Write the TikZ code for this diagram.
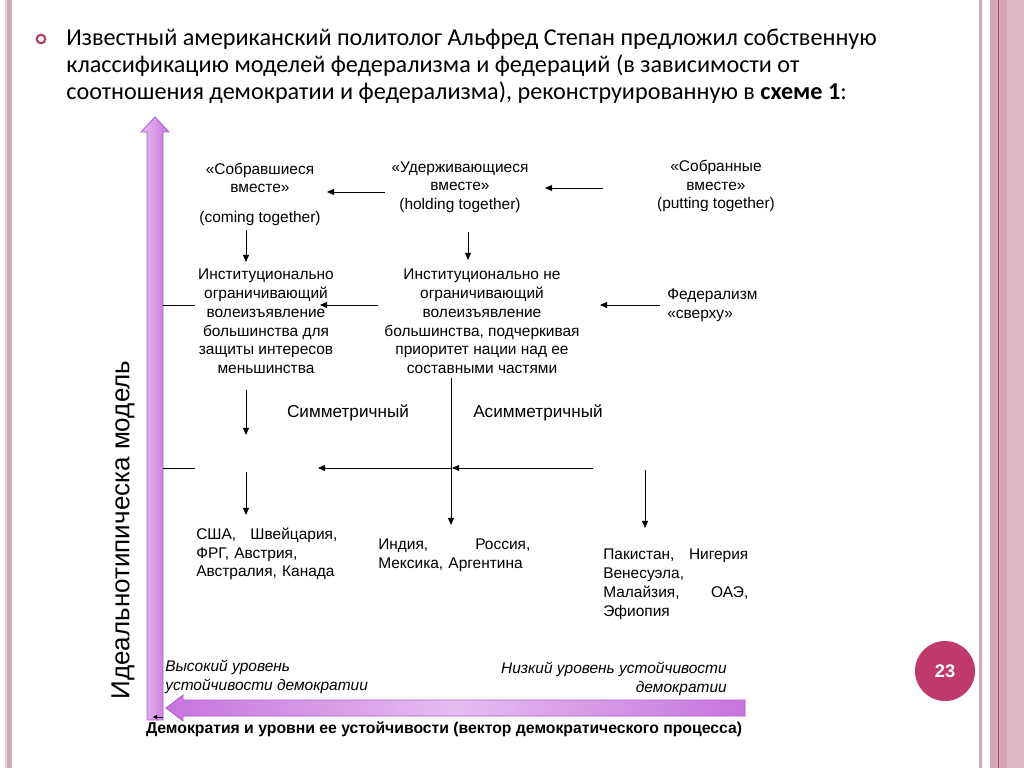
\documentclass[tikz,border=0pt]{standalone}
\usepackage{fontspec}
\setmainfont{Liberation Sans}
\newfontfamily\titlefont{Carlito}
\usetikzlibrary{arrows.meta,positioning}

\definecolor{stripepink}{HTML}{DDB7C2}
\definecolor{stripedark}{HTML}{D3A8B5}
\definecolor{stripeline}{HTML}{A84A6A}
\definecolor{bulletred}{HTML}{B23A66}
\definecolor{numred}{HTML}{BF396C}
\definecolor{axisfill}{HTML}{E6BDF0}
\definecolor{axisedge}{HTML}{C674DC}
\definecolor{axisline}{HTML}{B25ACA}

\tikzset{txt/.style = {inner sep=0pt,
                       align=center,
                       font=\fontsize{11}{13.3}\selectfont},
         marrow/.style = {-{Triangle[length=5pt,width=4.2pt]},
                          line width=0.6pt},
         mline/.style = {line width=0.6pt}}

\begin{document}
\begin{tikzpicture}[x=0.025cm,y=-0.025cm,
                    axis/.style = {draw=axisline,
                                   line width=0.6pt}]
		\useasboundingbox (0,0) rectangle (1024,768);
		\fill[white] (0,0) rectangle (1024,768);
		% borders
		\fill[stripepink!60!white] (5,0) rectangle (7,768);
		\fill[stripedark] (7,0) rectangle (12,768);
		\fill[stripedark] (979,0) rectangle (982,768);
		\fill[stripedark] (990,0) rectangle (1007,768);
		\fill[stripepink] (1007,0) rectangle (1024,768);
		\fill[stripeline] (997.5,0) rectangle (998.5,768);
		% title
		\draw[bulletred, line width=1.5pt] (41,39) circle (4.3);
		\node[inner sep=0pt, anchor=north west, align=left,
		      font=\titlefont\fontsize{17.2}{19.2}\selectfont] (title) at (66,29)
		     {Известный американский политолог Альфред Степан предложил собственную\\
		      классификацию моделей федерализма и федераций (в зависимости от\\
		      соотношения демократии и федерализма), реконструированную в \textbf{схеме 1}:};
		% axes
		\shade[axis, left color=axisfill, right color=axisedge]
		      (155,117) -- (169,132) -- (163,132) -- (163,720) -- (147,720)
		      -- (147,132) -- (141,132) -- cycle;
		\shade[axis, left color=axisedge, right color=axisedge, middle color=axisfill]
		      (166,708) -- (183,695) -- (183,700) -- (745,700) -- (745,716)
		      -- (183,716) -- (183,721) -- cycle;
		\coordinate (c0s) at (163,717);
		\coordinate (c0e) at (153,717);
		\draw[-{Triangle[length=3pt,width=3pt]}, line width=0.5pt] (c0s) -- (c0e);
		\node[inner sep=0pt, rotate=90, font=\fontsize{18.5}{20}\selectfont] (ideal) at (123,530)
		     {Идеальнотипическа модель};
		% models
		\node[txt] (cg) at (260,178) {«Собравшиеся\\вместе»};
		\node[txt] (cgE) at (260,219) {(coming together)};
		\node[txt] (ht) at (460,187) {«Удерживающиеся\\вместе»\\(holding together)};
		\node[txt] (pt) at (716,186) {«Собранные\\вместе»\\(putting together)};
		\node[txt] (inst1) at (266,321.5) {Институционально\\ограничивающий\\волеизъявление\\большинства для\\защиты интересов\\меньшинства};
		\node[txt] (inst2) at (482,321.5) {Институционально не\\ограничивающий\\волеизъявление\\большинства, подчеркивая\\приоритет нации над ее\\составными частями};
		\node[txt, align=left, anchor=west] (fed) at (667,305.5) {Федерализм\\«сверху»};
		\node[txt, font=\fontsize{12.2}{14}\selectfont] (sym) at (348,413) {Симметричный};
		\node[txt, font=\fontsize{12.2}{14}\selectfont] (asym) at (538,413) {Асимметричный};
		% countries
		\node[txt, align=left, anchor=west, text width=3.525cm] (usa) at (196,554)
		     {США,\hfill Швейцария,\\ФРГ, Австрия,\\Австралия, Канада};
		\node[txt, align=left, anchor=west, text width=3.8cm] (ind) at (378,555.5)
		     {Индия,\hfill Россия,\\Мексика, Аргентина};
		\node[txt, align=left, anchor=west, text width=3.625cm,
		      font=\fontsize{11}{13.6}\selectfont] (pak) at (603,584)
		     {Пакистан,\hfill Нигерия\\Венесуэла,\\Малайзия,\hfill ОАЭ,\\Эфиопия};
		% axis labels
		\node[txt, align=left, anchor=west, font=\itshape\fontsize{11}{14}\selectfont] (high) at (165,677)
		     {Высокий уровень\\устойчивости демократии};
		\node[txt, align=right, anchor=east, font=\itshape\fontsize{11}{14}\selectfont] (low) at (727,679)
		     {Низкий уровень устойчивости\\демократии};
		\node[txt, font=\bfseries\fontsize{11.2}{13}\selectfont] (demo) at (444,729)
		     {Демократия и уровни ее устойчивости (вектор демократического процесса)};
		% page number
		\node[circle, fill=numred, minimum size=1.5cm, inner sep=0pt,
		      text=white, font=\bfseries\fontsize{13}{15}\selectfont] (num) at (945,671) {23};
		% connectors
		\coordinate (a1) at (603,188);
		\coordinate (a2) at (545,188);
		\coordinate (a3) at (385,192);
		\coordinate (a4) at (327,192);
		\coordinate (b1) at (660,305);
		\coordinate (b2) at (600,305);
		\coordinate (b3) at (378,305);
		\coordinate (b4) at (320,305);
		\coordinate (t1) at (163,305);
		\coordinate (t2) at (195,305);
		\coordinate (t3) at (163,468);
		\coordinate (t4) at (195,468);
		\coordinate (h1) at (593,468);
		\coordinate (h2) at (452,468);
		\coordinate (h3) at (318,468);
		\coordinate (v1) at (451,378);
		\coordinate (v2) at (451,525);
		\coordinate (d1) at (246,230);
		\coordinate (d2) at (246,262);
		\coordinate (d3) at (468,232);
		\coordinate (d4) at (468,260);
		\coordinate (d5) at (246,390);
		\coordinate (d6) at (246,435);
		\coordinate (d7) at (246,472);
		\coordinate (d8) at (246,515);
		\coordinate (d9) at (645,470);
		\coordinate (d10) at (645,528);
		\draw[marrow] (a1) -- (a2);
		\draw[marrow] (a3) -- (a4);
		\draw[marrow] (b1) -- (b2);
		\draw[marrow] (b3) -- (b4);
		\draw[mline] (t1) -- (t2);
		\draw[mline] (t3) -- (t4);
		\draw[marrow] (h1) -- (h2);
		\draw[marrow] (h2) -- (h3);
		\draw[marrow] (v1) -- (v2);
		\draw[marrow] (d1) -- (d2);
		\draw[marrow] (d3) -- (d4);
		\draw[marrow] (d5) -- (d6);
		\draw[marrow] (d7) -- (d8);
		\draw[marrow] (d9) -- (d10);
	\end{tikzpicture}
\end{document}
